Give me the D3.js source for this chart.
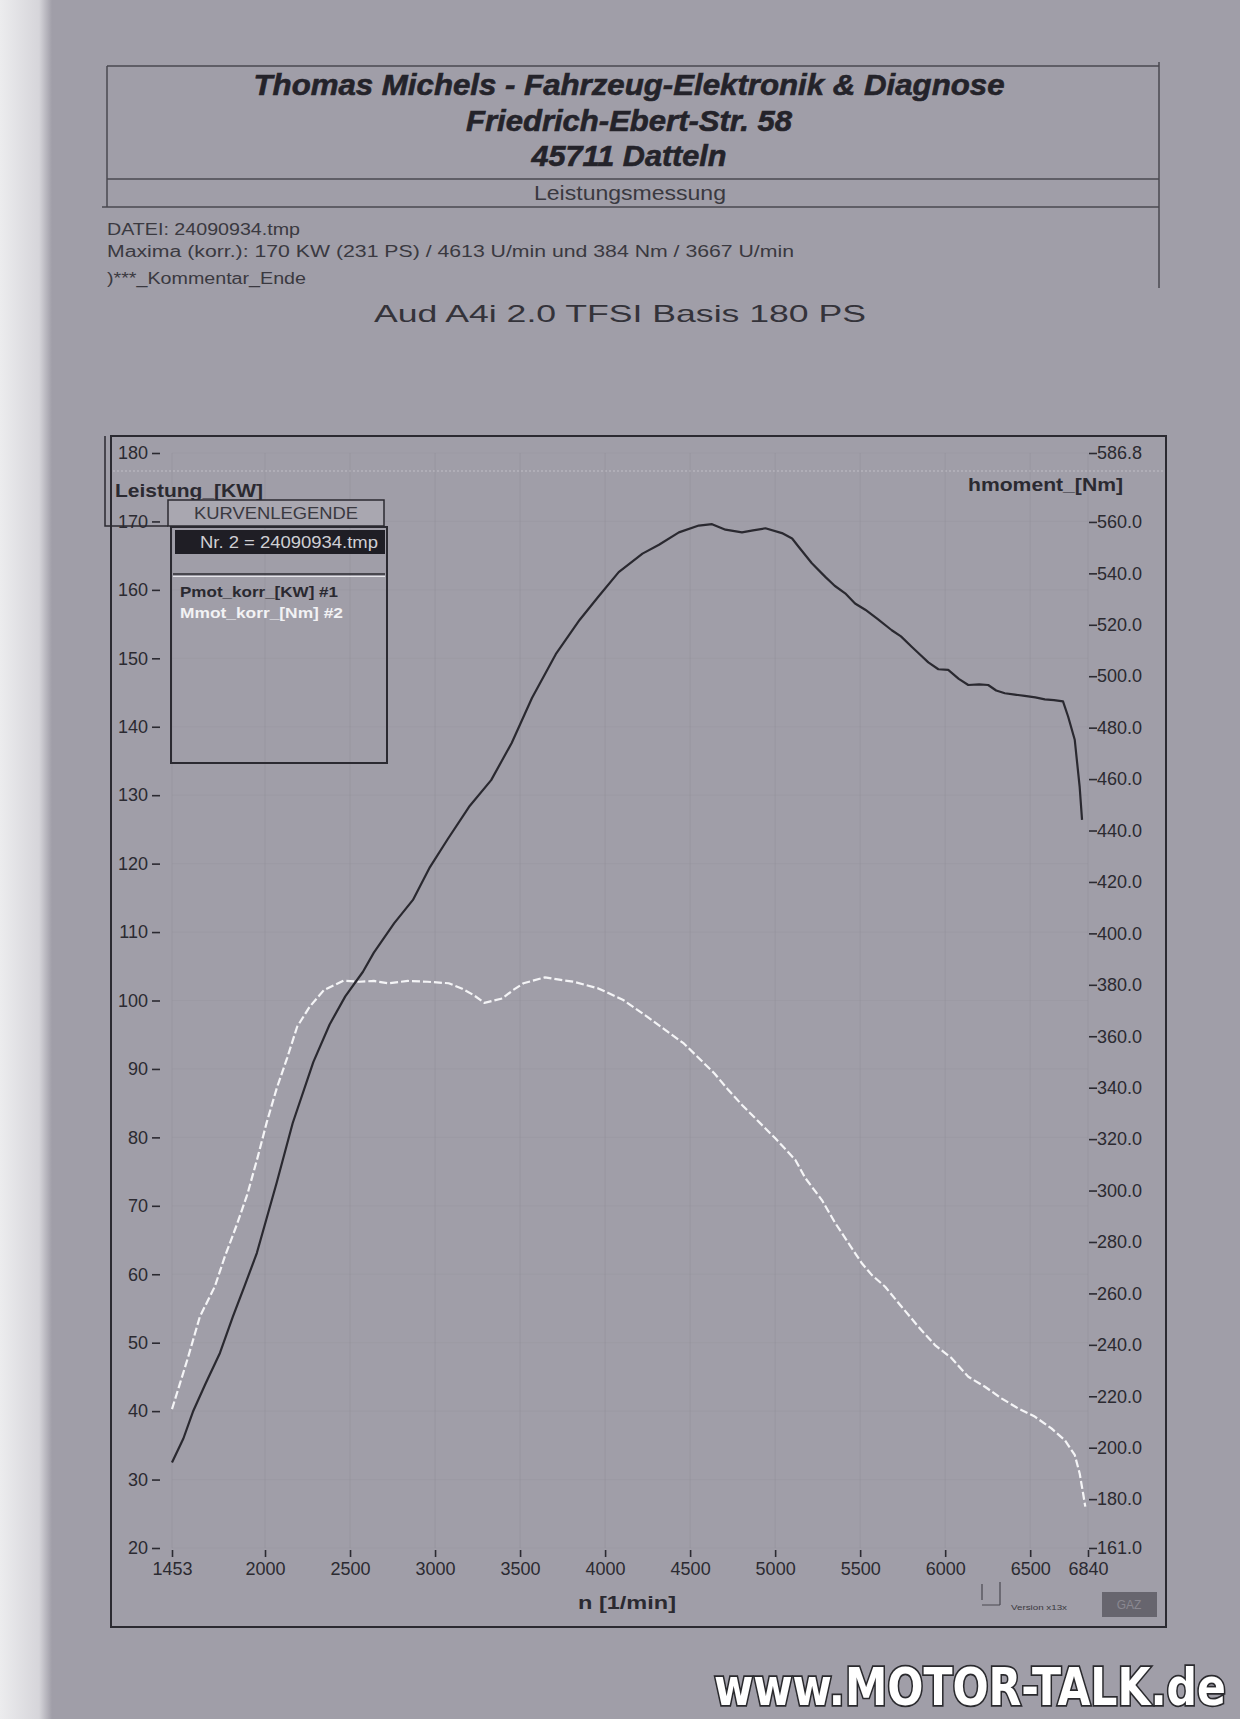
<!DOCTYPE html>
<html><head><meta charset="utf-8">
<script src="https://cdn.jsdelivr.net/npm/d3@7"></script>
<style>
body{margin:0;background:#a19fa8;}
svg{display:block;}
</style>
</head><body>
<svg id="c" width="1240" height="1719"></svg>
<script>
// ---- data read from the dyno sheet ----
const rpmPower = [1453,1520,1576,1650,1735,1811,1880,1952,2069,2163,2284,2380,2472,2576,2640,2760,2870,2970,3075,3200,3330,3450,3570,3710,3850,3960,4080,4220,4317,4434,4551,4629,4708,4805,4870,4943,5040,5100,5138,5216,5295,5350,5412,5470,5530,5600,5686,5740,5803,5850,5901,5960,6018,6080,6136,6200,6253,6300,6351,6410,6468,6530,6586,6640,6693,6723,6762,6791,6805];
const powerKW = [32.5,36.0,39.9,44.0,48.5,53.8,58.3,63.1,73.4,82.1,91.0,96.5,100.6,104.2,107.0,111.3,114.7,119.5,123.6,128.3,132.2,137.6,144.2,150.6,155.6,159.0,162.6,165.3,166.6,168.4,169.4,169.6,168.8,168.4,168.7,169.0,168.3,167.5,166.3,163.9,161.9,160.6,159.5,158.0,157.1,155.8,154.1,153.2,151.7,150.6,149.4,148.4,148.3,147.0,146.1,146.2,146.1,145.3,144.9,144.7,144.5,144.3,144.0,143.9,143.7,141.5,138.1,131.2,126.4];
const rpmTorque = [1453,1500,1549,1617,1705,1764,1833,1896,1955,2010,2070,2130,2189,2263,2347,2462,2556,2640,2724,2840,2955,3080,3160,3227,3290,3395,3460,3520,3646,3730,3814,3960,4107,4275,4463,4642,4720,4805,5001,5119,5178,5275,5354,5432,5510,5568,5647,5744,5842,5940,6038,6136,6234,6331,6429,6527,6625,6703,6762,6791,6811,6824];
const torqueNm = [215,225,235.5,251,262.7,274.4,286.5,298.5,312.5,326.5,340,351.5,363.7,371.5,378.0,381.6,381.2,381.5,380.6,381.5,381.2,380.6,378.5,376.0,373.0,374.7,378,380.6,382.9,382,381.2,378.6,374.1,366.3,357.2,345.6,339.5,333.3,320.3,311.9,304.8,296.3,287.3,279.5,271.7,267.2,262.6,254.8,247.1,239.9,234.8,227.6,223.7,219.2,215.3,212.1,207.5,203.0,197.2,190.0,182.3,177.1];
const xTicks = [1453,2000,2500,3000,3500,4000,4500,5000,5500,6000,6500,6840];
const yLeftTicks = [20,30,40,50,60,70,80,90,100,110,120,130,140,150,160,170,180];
const yRightTicks = [161,180,200,220,240,260,280,300,320,340,360,380,400,420,440,460,480,500,520,540,560,586.8];
const headerLines = ["Thomas Michels  -  Fahrzeug-Elektronik & Diagnose","Friedrich-Ebert-Str. 58","45711 Datteln"];
const infoLines = ["DATEI: 24090934.tmp","Maxima (korr.):  170 KW (231 PS) /  4613 U/min  und   384 Nm /  3667 U/min",")***_Kommentar_Ende"];
const legendItems = ["Pmot_korr_[KW] #1","Mmot_korr_[Nm] #2"];

const svg = d3.select("#c");
const ink = "#2b2a31";
const FONT = "'Liberation Sans', Arial, sans-serif";
const NARROW = "'Liberation Sans Narrow','Liberation Sans', Arial, sans-serif";

// page background (scan)
svg.append("rect").attr("width",1240).attr("height",1719).attr("fill","#a09ea8");
const grad = svg.append("defs").append("linearGradient").attr("id","lg").attr("x1",0).attr("x2",1);
grad.append("stop").attr("offset",0).attr("stop-color","#ececee");
grad.append("stop").attr("offset",0.75).attr("stop-color","#d6d5da");
grad.append("stop").attr("offset",1).attr("stop-color","#a09ea8");
svg.append("rect").attr("x",0).attr("y",0).attr("width",52).attr("height",1719).attr("fill","url(#lg)");

// ---- header box ----
const hdr = svg.append("g").attr("stroke","#4a4951").attr("stroke-width",1.5);
hdr.append("line").attr("x1",107).attr("x2",1159).attr("y1",66).attr("y2",66);
hdr.append("line").attr("x1",107).attr("x2",1159).attr("y1",179).attr("y2",179);
hdr.append("line").attr("x1",102).attr("x2",1159).attr("y1",207).attr("y2",207);
hdr.append("line").attr("x1",107).attr("x2",107).attr("y1",66).attr("y2",207);
hdr.append("line").attr("x1",1159).attr("x2",1159).attr("y1",62).attr("y2",288);

const hY = [95,131,166], hW = [751,326,195];
headerLines.forEach((t,i)=>{
  svg.append("text").attr("x",629).attr("y",hY[i]).attr("text-anchor","middle")
    .attr("font-family",NARROW).attr("font-weight","bold").attr("font-style","italic")
    .attr("font-size",29).attr("fill","#24232a").attr("stroke","#24232a").attr("stroke-width",0.6)
    .attr("textLength",hW[i]).attr("lengthAdjust","spacingAndGlyphs").text(t);
});
svg.append("text").attr("x",630).attr("y",200).attr("text-anchor","middle")
  .attr("font-family",NARROW).attr("font-size",20).attr("fill","#3a3940")
  .attr("textLength",192).attr("lengthAdjust","spacingAndGlyphs").text("Leistungsmessung");

const iY=[235,257,284], iW=[193,687,199];
infoLines.forEach((t,i)=>{
  svg.append("text").attr("x",107).attr("y",iY[i])
    .attr("font-family",NARROW).attr("font-size",16).attr("fill","#3a3940")
    .attr("textLength",iW[i]).attr("lengthAdjust","spacingAndGlyphs").text(t);
});
svg.append("text").attr("x",620).attr("y",322).attr("text-anchor","middle")
  .attr("font-family",FONT).attr("font-size",24).attr("fill","#34333a")
  .attr("textLength",492).attr("lengthAdjust","spacingAndGlyphs").text("Aud A4i 2.0 TFSI Basis 180 PS");

// ---- chart frame ----
svg.append("rect").attr("x",111).attr("y",436).attr("width",1055).attr("height",1191)
  .attr("fill","none").attr("stroke",ink).attr("stroke-width",2);
svg.append("path").attr("d","M105,436 L105,526 L168,526").attr("fill","none").attr("stroke",ink).attr("stroke-width",1.5);
svg.append("line").attr("x1",113).attr("x2",1164).attr("y1",471).attr("y2",471)
  .attr("stroke","#c9c8ce").attr("stroke-width",1).attr("stroke-dasharray","2 2").attr("opacity",0.8);

// scales
const x = d3.scaleLinear().domain([1453,6840]).range([172,1088]);
const yL = d3.scaleLinear().domain([20,180]).range([1548,453]);
const yR = d3.scaleLinear().domain([161,586.8]).range([1548,453]);

// faint grid
const grid = svg.append("g").attr("stroke","#8f8d96").attr("stroke-width",1);
grid.selectAll("line.v").data(xTicks).join("line").attr("class","v")
  .attr("x1",d=>x(d)).attr("x2",d=>x(d)).attr("y1",yL(180)).attr("y2",yL(20)).attr("opacity",0.4);
grid.selectAll("line.h").data(yLeftTicks).join("line").attr("class","h")
  .attr("x1",x(1453)).attr("x2",x(6840)).attr("y1",d=>yL(d)).attr("y2",d=>yL(d)).attr("opacity",0.2);

// axes
function styleAxis(g){
  g.select(".domain").remove();
  g.selectAll(".tick line").attr("stroke",ink).attr("stroke-width",1.6);
  g.selectAll(".tick text").attr("fill",ink).attr("font-family",FONT).attr("font-size",18);
}
svg.append("g").attr("transform","translate(160,0)")
  .call(d3.axisLeft(yL).tickValues(yLeftTicks).tickSize(8).tickPadding(4).tickFormat(d3.format("d")))
  .call(styleAxis);
svg.append("g").attr("transform","translate(1089,0)")
  .call(d3.axisRight(yR).tickValues(yRightTicks).tickSize(8).tickPadding(0).tickFormat(d3.format(".1f")))
  .call(styleAxis);
svg.append("g").attr("transform","translate(0,1550)")
  .call(d3.axisBottom(x).tickValues(xTicks).tickSize(7).tickPadding(5).tickFormat(d3.format("d")))
  .call(styleAxis);

svg.append("text").attr("x",627).attr("y",1609).attr("text-anchor","middle")
  .attr("font-family",FONT).attr("font-weight","bold").attr("font-size",18).attr("fill",ink)
  .attr("textLength",98).attr("lengthAdjust","spacingAndGlyphs").text("n  [1/min]");

svg.append("text").attr("x",115).attr("y",497)
  .attr("font-family",FONT).attr("font-weight","bold").attr("font-size",19).attr("fill",ink)
  .attr("textLength",148).attr("lengthAdjust","spacingAndGlyphs").text("Leistung_[KW]");
svg.append("text").attr("x",968).attr("y",491)
  .attr("font-family",FONT).attr("font-weight","bold").attr("font-size",19).attr("fill",ink)
  .attr("textLength",155).attr("lengthAdjust","spacingAndGlyphs").text("hmoment_[Nm]");

// ---- curves ----
const powerData = rpmPower.map((r,i)=>[r,powerKW[i]]);
const torqueData = rpmTorque.map((r,i)=>[r,torqueNm[i]]);
svg.append("path").datum(torqueData)
  .attr("d",d3.line().x(d=>x(d[0])).y(d=>yR(d[1])))
  .attr("fill","none").attr("stroke","#f4f4f6").attr("stroke-width",2.2)
  .attr("stroke-dasharray","8 3").attr("stroke-linejoin","round");
svg.append("path").datum(powerData)
  .attr("d",d3.line().x(d=>x(d[0])).y(d=>yL(d[1])))
  .attr("fill","none").attr("stroke","#2a2930").attr("stroke-width",2.2).attr("stroke-linejoin","round");

// ---- legend ----
const lg = svg.append("g");
lg.append("rect").attr("x",171).attr("y",527).attr("width",216).attr("height",236)
  .attr("fill","none").attr("stroke",ink).attr("stroke-width",2);
lg.append("rect").attr("x",168).attr("y",500).attr("width",216).attr("height",26)
  .attr("fill","#a9a7b0").attr("stroke",ink).attr("stroke-width",1.5);
lg.append("text").attr("x",276).attr("y",519).attr("text-anchor","middle")
  .attr("font-family",FONT).attr("font-size",16).attr("fill","#3a3940")
  .attr("textLength",164).attr("lengthAdjust","spacingAndGlyphs").text("KURVENLEGENDE");
lg.append("rect").attr("x",175).attr("y",530).attr("width",210).attr("height",24).attr("fill","#1f1e25");
lg.append("text").attr("x",200).attr("y",548)
  .attr("font-family",FONT).attr("font-size",16).attr("fill","#cfcfd4")
  .attr("textLength",178).attr("lengthAdjust","spacingAndGlyphs").text("Nr. 2 = 24090934.tmp");
lg.append("line").attr("x1",173).attr("x2",385).attr("y1",574).attr("y2",574).attr("stroke",ink).attr("stroke-width",1.5);
lg.append("line").attr("x1",173).attr("x2",385).attr("y1",576.5).attr("y2",576.5).attr("stroke","#e6e6ea").attr("stroke-width",1);
const legColors = ["#2a2930","#f2f2f4"], legW=[158,163];
legendItems.forEach((t,i)=>{
  lg.append("text").attr("x",180).attr("y",597+i*21)
    .attr("font-family",FONT).attr("font-weight","bold").attr("font-size",15).attr("fill",legColors[i])
    .attr("textLength",legW[i]).attr("lengthAdjust","spacingAndGlyphs").text(t);
});

// ---- bottom right stamp ----
svg.append("path").attr("d","M982,1584 L982,1600 M1000,1582 L1000,1605 M982,1605 L1000,1605")
  .attr("stroke","#4a4951").attr("stroke-width",1.2).attr("fill","none");
svg.append("text").attr("x",1011).attr("y",1610).attr("font-family",FONT).attr("font-size",8)
  .attr("fill","#3a3940").attr("textLength",56).attr("lengthAdjust","spacingAndGlyphs").text("Version x13x");
svg.append("rect").attr("x",1102).attr("y",1592).attr("width",55).attr("height",25).attr("fill","#67656e");
svg.append("text").attr("x",1129).attr("y",1609).attr("text-anchor","middle").attr("font-family",FONT)
  .attr("font-size",12).attr("fill","#8a8891").text("GAZ");

// ---- watermark (scaled to fit exactly inside the page) ----
const wmG = svg.append("g");
const wm = wmG.append("text").attr("x",0).attr("y",0)
  .attr("font-family","'DejaVu Sans Condensed','Liberation Sans Narrow','Liberation Sans',sans-serif")
  .attr("font-weight","bold").attr("font-size",40)
  .attr("fill","#ffffff").attr("stroke","#2a2a2e").attr("stroke-width",2.6).attr("paint-order","stroke")
  .text("www.MOTOR-TALK.de");
const natW = wm.node().getComputedTextLength();
const sx = 512 / natW;
wmG.attr("transform",`translate(714,1705) scale(${sx.toFixed(4)},1.28)`);
</script>
</body></html>
